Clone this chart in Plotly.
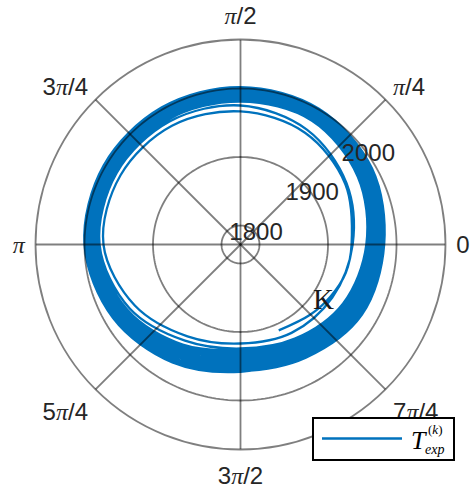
import numpy as np
import plotly.graph_objects as go

# Phase angle (degrees, unwrapped) and measured temperature T_exp^(k) in K
theta_deg = [
    294, 315, 330, 345, 360, 390, 420, 450, 480, 510, 540, 570, 600, 630,
    660, 690, 720, 750, 780, 810, 840, 870, 900, 930, 960, 990,
    1020, 1050, 1080, 1110, 1140, 1170, 1200, 1230, 1260, 1290, 1320, 1350,
    1380, 1410, 1440, 1470, 1500, 1530, 1560, 1590, 1620, 1650, 1680, 1710,
    1740, 1770, 1800, 1830, 1860, 1890, 1920, 1950, 1980, 2010, 2040, 2070,
    2100, 2130, 2160, 2190, 2220, 2250, 2280, 2310, 2340, 2370, 2400, 2430,
    2460, 2490, 2520, 2550, 2580, 2610, 2640, 2670, 2700, 2730, 2760, 2790,
    2820, 2850, 2880, 2910, 2940, 2970, 3000, 3030, 3060, 3090, 3120, 3150,
    3180, 3210, 3240, 3270, 3300, 3330, 3360, 3390, 3420, 3450, 3480, 3510,
    3540, 3570, 3600, 3630, 3660, 3690, 3720, 3750, 3780, 3810, 3840, 3870,
    3900, 3930, 3960, 3990, 4020, 4050, 4080, 4110, 4140, 4170, 4200, 4230,
    4260, 4290, 4320, 4350, 4380, 4410, 4440, 4470, 4500, 4530, 4560, 4590,
    4620, 4650, 4680, 4710, 4740, 4770, 4800, 4830, 4860, 4890, 4920, 4950,
    4980, 5010, 5040, 5070, 5100, 5130, 5160, 5190, 5220, 5250, 5280, 5310,
    5340, 5370, 5400, 5430, 5460, 5490, 5520, 5550, 5580, 5610, 5640, 5670,
    5700, 5730, 5760, 5790, 5820, 5850, 5880, 5910, 5940, 5970, 6000, 6030,
    6060, 6090, 6120, 6150, 6180, 6210, 6240, 6270, 6300, 6330, 6360, 6390,
    6420, 6450, 6480, 6510, 6540, 6570, 6600, 6630, 6660, 6690, 6720, 6750,
    6780, 6810, 6840,
]
temperature = [
    1909.5, 1916.8, 1924.1, 1931.4, 1934.4, 1948.9, 1960.6, 1966.5, 1972.3, 1974.5, 1972.3, 1950.4, 1927.1, 1916.8,
    1921.2, 1927.0, 1936.0, 1951.0, 1966.0, 1975.2, 1979.6, 1981.0, 1978.0, 1959.0, 1934.4, 1924.1,
    1931, 1945, 1956, 1970, 1981, 1981, 1983, 1983, 1980, 1963, 1941, 1926,
    1933, 1947, 1958, 1972, 1982, 1982, 1984, 1984, 1981, 1965, 1943, 1928,
    1936, 1949, 1960, 1974, 1984, 1984, 1986, 1986, 1983, 1967, 1946, 1930,
    1939, 1952, 1962, 1976, 1985, 1986, 1987, 1987, 1984, 1969, 1948, 1933,
    1941, 1954, 1964, 1978, 1987, 1987, 1989, 1989, 1986, 1970, 1950, 1935,
    1944, 1957, 1966, 1979, 1988, 1989, 1990, 1990, 1987, 1972, 1953, 1938,
    1946, 1959, 1968, 1981, 1990, 1990, 1992, 1992, 1989, 1974, 1955, 1940,
    1949, 1962, 1970, 1983, 1991, 1992, 1993, 1993, 1990, 1976, 1957, 1943,
    1951, 1964, 1972, 1985, 1993, 1993, 1995, 1995, 1992, 1978, 1959, 1945,
    1953, 1967, 1974, 1987, 1994, 1995, 1996, 1996, 1993, 1979, 1961, 1947,
    1955, 1969, 1976, 1989, 1996, 1997, 1998, 1998, 1995, 1981, 1964, 1950,
    1958, 1971, 1978, 1990, 1997, 1998, 1999, 1999, 1996, 1983, 1966, 1952,
    1960, 1973, 1980, 1992, 1999, 2000, 2001, 2001, 1998, 1985, 1968, 1955,
    1962, 1975, 1981, 1993, 2000, 2001, 2002, 2002, 1999, 1986, 1970, 1957,
    1963, 1977, 1982, 1994, 2001, 2002, 2003, 2003, 2000, 1987, 1971, 1958,
    1959, 1972, 1979, 1991, 1998, 1999, 2000, 2000, 1997, 1984, 1967, 1953,
    1956, 1969, 1977, 1989, 1996, 1996, 1997, 1997, 1994, 1981, 1963, 1949,
    1952, 1965, 1973, 1986, 1994, 1995, 1996, 1996, 1993, 1979, 1961, 1946,
    1948, 1961, 1970, 1983, 1991, 1992, 1993, 1993, 1990, 1975, 1957, 1942,
    1944, 1957, 1966, 1979, 1988, 1989, 1990, 1990, 1987, 1972, 1953, 1938,
    1939, 1952, 1962, 1976, 1985, 1985, 1987, 1987, 1984, 1969, 1948, 1933,
    1937, 1950, 1961,
]

r_ticks = [1800, 1900, 2000]
r_range = [1772.3, 2071.5]
angle_ticks = [0, 45, 90, 135, 180, 225, 270, 315]
PI = "<span style=\"font-family:'Liberation Serif';font-style:italic\">π</span>"
angle_labels = ["0", PI + "/4", PI + "/2", "3" + PI + "/4", PI,
                "5" + PI + "/4", "3" + PI + "/2", "7" + PI + "/4"]

BLUE = "#0072BD"
GRID = "rgba(0,0,0,0.5)"
TXT = "#262626"
SANS = "Liberation Sans, Arial, sans-serif"
SERIF = "Liberation Serif, Times New Roman, serif"

fig = go.Figure()

fig.add_trace(go.Scatterpolar(
    r=temperature, theta=theta_deg, mode="lines",
    line=dict(color=BLUE, width=2.3, shape="spline", smoothing=1.0),
    name="T_exp", showlegend=False, hoverinfo="skip",
))

# grid drawn on top of the data: spokes and rings
spoke_r, spoke_t = [], []
for a in angle_ticks:
    spoke_r += [r_range[0], r_range[1], None]
    spoke_t += [a, a, None]
fig.add_trace(go.Scatterpolar(r=spoke_r, theta=spoke_t, mode="lines",
                              line=dict(color=GRID, width=1.8),
                              showlegend=False, hoverinfo="skip"))
ring_theta = np.linspace(0, 360, 241)
for v in r_ticks:
    fig.add_trace(go.Scatterpolar(r=[v] * len(ring_theta), theta=ring_theta,
                                  mode="lines", line=dict(color=GRID, width=1.8),
                                  showlegend=False, hoverinfo="skip"))

# radial tick labels
fig.add_trace(go.Scatterpolar(
    r=r_ticks, theta=[35] * len(r_ticks), mode="text",
    text=[str(v) for v in r_ticks], textposition="middle center",
    textfont=dict(family=SANS, size=24, color=TXT),
    showlegend=False, hoverinfo="skip",
))

W, H = 475, 488
cx, cy, R = 240.5, 244.5, 205
fig.update_layout(
    width=W, height=H,
    margin=dict(l=0, r=0, t=0, b=0),
    paper_bgcolor="white",
    showlegend=False,
    polar=dict(
        domain=dict(x=[(cx - R) / W, (cx + R) / W],
                    y=[1 - (cy + R) / H, 1 - (cy - R) / H]),
        bgcolor="white",
        radialaxis=dict(range=r_range, tickvals=r_ticks, showticklabels=False,
                        showgrid=False, showline=False, ticks=""),
        angularaxis=dict(tickmode="array", tickvals=angle_ticks, ticktext=angle_labels,
                         showgrid=False, showline=True, linecolor=GRID, linewidth=1.8,
                         ticks="outside", ticklen=5, tickcolor="rgba(0,0,0,0)",
                         direction="counterclockwise", rotation=0,
                         tickfont=dict(family=SANS, size=24, color=TXT)),
    ),
)

# legend box
def px(x):
    return x / W

def py(y):
    return 1 - y / H

fig.add_shape(type="rect", xref="paper", yref="paper",
              x0=px(313), x1=px(454), y0=py(460), y1=py(418),
              line=dict(color="black", width=2), fillcolor="white", layer="above")
fig.add_shape(type="line", xref="paper", yref="paper",
              x0=px(322), x1=px(402), y0=py(438.5), y1=py(438.5),
              line=dict(color=BLUE, width=2.5), layer="above")
fig.add_annotation(x=px(409), y=py(440), xref="paper", yref="paper",
                   text="<i>T</i>", showarrow=False, xanchor="left", yanchor="middle",
                   font=dict(family=SERIF, size=26, color="black"))
fig.add_annotation(x=px(435), y=py(439), xref="paper", yref="paper",
                   text="(<i>k</i>)", showarrow=False, xanchor="center", yanchor="bottom",
                   font=dict(family=SERIF, size=13, color="black"))
fig.add_annotation(x=px(434), y=py(439.5), xref="paper", yref="paper",
                   text="<i>exp</i>", showarrow=False, xanchor="center", yanchor="top",
                   font=dict(family=SERIF, size=14, color="black"))

# unit label
fig.add_annotation(x=px(323), y=py(299), xref="paper", yref="paper",
                   text="K", showarrow=False, xanchor="center", yanchor="middle",
                   font=dict(family=SERIF, size=29, color="#1a1a1a"))

fig.write_html("out.html")
